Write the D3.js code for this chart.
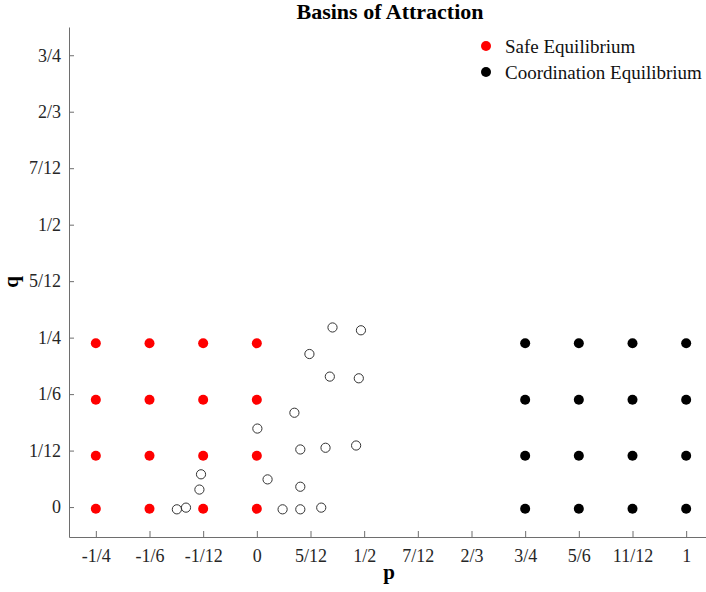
<!DOCTYPE html>
<html>
<head>
<meta charset="utf-8">
<script src="https://cdn.jsdelivr.net/npm/d3@7"></script>
<style>
  html, body { margin: 0; padding: 0; background: #fff; }
  svg { display: block; font-family: "Liberation Serif", "Times New Roman", serif; }
  .axis path, .axis line { stroke: #6e6e6e; stroke-width: 1; }
  .axis text { fill: #262626; font-size: 18px; font-family: "Liberation Serif", serif; }
</style>
</head>
<body>
<svg id="chart" width="706" height="592"></svg>
<script>
// tick labels (the axes are evenly spaced categories, not linear in value)
const pTicks = ["-1/4", "-1/6", "-1/12", "0", "5/12", "1/2", "7/12", "2/3", "3/4", "5/6", "11/12", "1"];
const qTicks = ["0", "1/12", "1/6", "1/4", "5/12", "1/2", "7/12", "2/3", "3/4"];

// filled grid points, in tick-index units
const safeP = [0, 1, 2, 3];
const coordP = [8, 9, 10, 11];
const gridQ = [-0.03, 0.91, 1.9, 2.9];

// open circles (unstable points), tick-index units
const openP = [4.41, 4.94, 3.98, 4.36, 4.90, 3.70, 3.01, 3.81, 4.28, 4.85, 1.96, 3.20, 1.93, 3.81, 1.51, 1.68, 3.48, 3.81, 4.20];
const openQ = [3.18, 3.13, 2.71, 2.31, 2.28, 1.67, 1.39, 1.02, 1.05, 1.09, 0.58, 0.49, 0.31, 0.36, -0.04, -0.01, -0.04, -0.04, -0.01];

const legendItems = [
    { label: "Safe Equilibrium", color: "#ff0000" },
    { label: "Coordination Equilibrium", color: "#000000" }
];

const svg = d3.select("#chart");

const x = d3.scaleLinear().domain([-0.5, 11.5]).range([69, 713]);
const y = d3.scaleLinear().domain([-0.53, 8.5]).range([537, 27]);

// --- axes ---
svg.append("g")
    .attr("class", "axis")
    .attr("transform", "translate(0,537)")
    .call(d3.axisBottom(x)
        .tickValues(d3.range(pTicks.length))
        .tickFormat(i => pTicks[i])
        .tickSizeInner(-6).tickSizeOuter(0).tickPadding(12));

svg.append("g")
    .attr("class", "axis")
    .attr("transform", "translate(69,0)")
    .call(d3.axisLeft(y)
        .tickValues(d3.range(qTicks.length))
        .tickFormat(i => qTicks[i])
        .tickSizeInner(-5).tickSizeOuter(0).tickPadding(8));

// --- points ---
const safePts = d3.cross(safeP, gridQ);
const coordPts = d3.cross(coordP, gridQ);

svg.append("g").selectAll("circle").data(safePts).join("circle")
    .attr("cx", d => x(d[0])).attr("cy", d => y(d[1]))
    .attr("r", 5).attr("fill", "#ff0000");

svg.append("g").selectAll("circle").data(coordPts).join("circle")
    .attr("cx", d => x(d[0])).attr("cy", d => y(d[1]))
    .attr("r", 5).attr("fill", "#000");

svg.append("g").selectAll("circle").data(d3.zip(openP, openQ)).join("circle")
    .attr("cx", d => x(d[0])).attr("cy", d => y(d[1]))
    .attr("r", 4.6).attr("fill", "none")
    .attr("stroke", "#333").attr("stroke-width", 1);

// --- labels ---
svg.append("text")
    .attr("x", 390).attr("y", 19)
    .attr("text-anchor", "middle")
    .style("font-size", "22px").style("font-weight", "bold")
    .text("Basins of Attraction");

svg.append("text")
    .attr("x", 389).attr("y", 579)
    .attr("text-anchor", "middle")
    .style("font-size", "21px").style("font-weight", "bold")
    .text("p");

svg.append("text")
    .attr("transform", "translate(18,282) rotate(-90)")
    .attr("text-anchor", "middle")
    .style("font-size", "21px").style("font-weight", "bold")
    .text("q");

// --- legend ---
const legend = svg.append("g").attr("transform", "translate(486,46)");
const rows = legend.selectAll("g").data(legendItems).join("g")
    .attr("transform", (d, i) => `translate(0,${i * 26})`);
rows.append("circle").attr("r", 5).attr("fill", d => d.color);
rows.append("text")
    .attr("x", 19).attr("y", 7)
    .style("font-size", "19px").style("fill", "#111")
    .text(d => d.label);
</script>
</body>
</html>
